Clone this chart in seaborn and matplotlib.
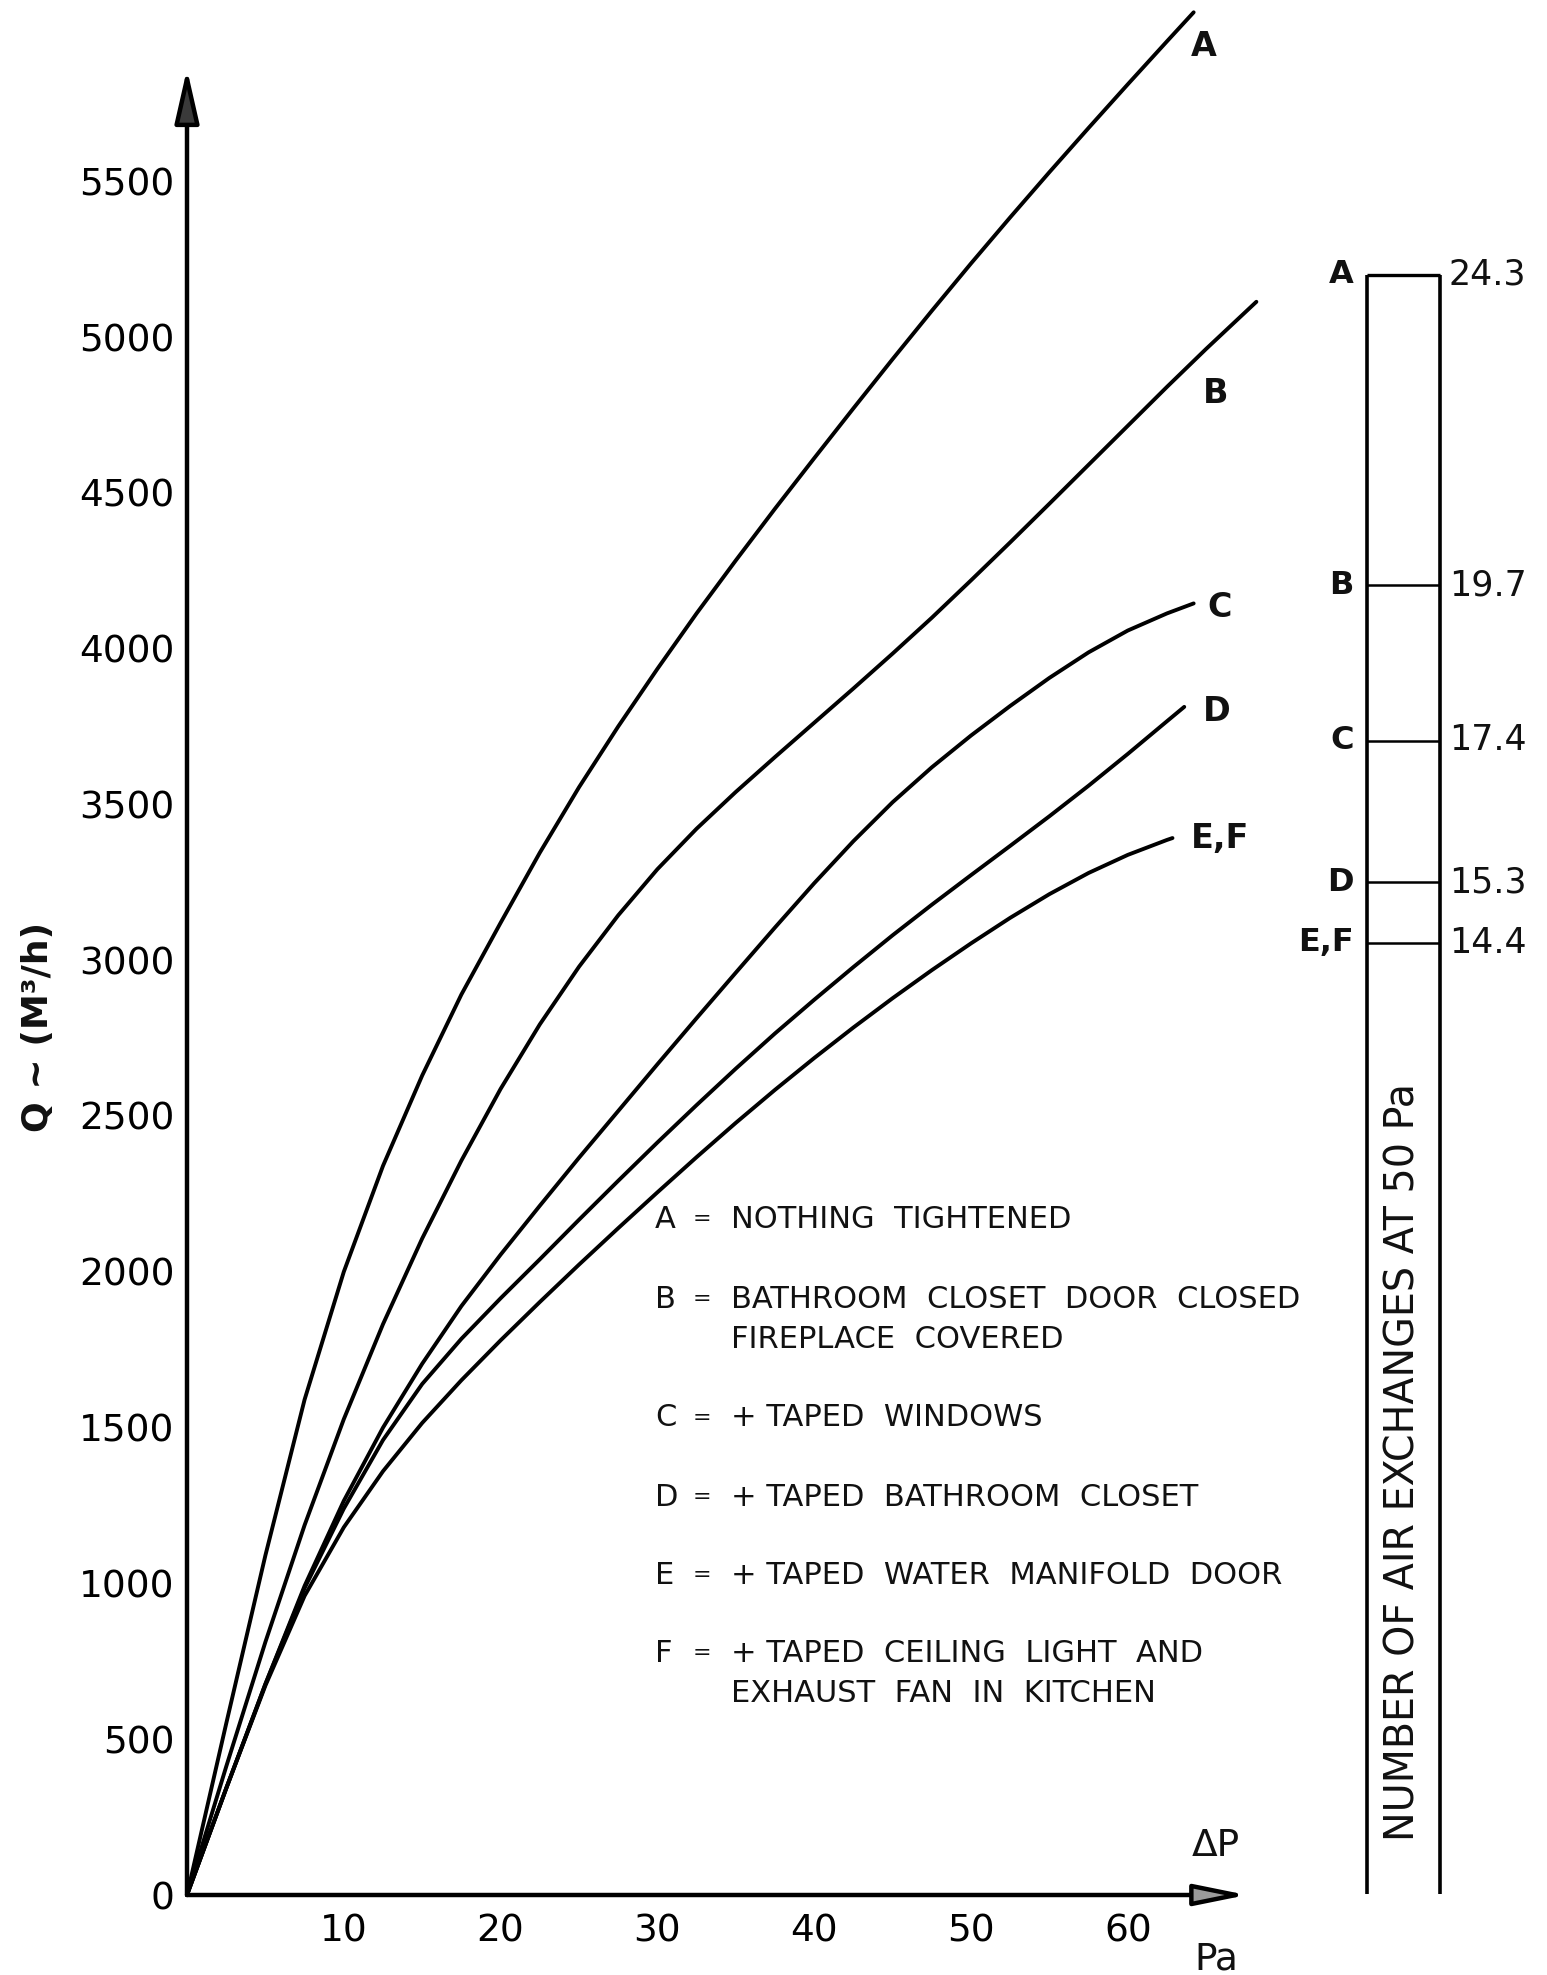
import numpy as np
import pandas as pd
import matplotlib
matplotlib.use("Agg")
import matplotlib.pyplot as plt
import seaborn as sns

# ---------------- data ----------------
curve_names = ["A", "B", "C", "D", "E,F"]

dp_A = [0, 2.5, 5, 7.5, 10, 12.5, 15, 17.5, 20, 22.5, 25, 27.5, 30, 32.5, 35,
        37.5, 40, 42.5, 45, 47.5, 50, 52.5, 55, 57.5, 60, 62.5, 64.2]
q_A = [0, 550, 1090, 1590, 2000, 2340, 2630, 2890, 3120, 3345, 3555, 3750, 3935, 4113, 4283,
       4449, 4611, 4771, 4929, 5084, 5236, 5384, 5529, 5671, 5811, 5949, 6042]

dp_B = [0, 2.5, 5, 7.5, 10, 12.5, 15, 17.5, 20, 22.5, 25, 27.5, 30, 32.5, 35,
        37.5, 40, 42.5, 45, 47.5, 50, 52.5, 55, 57.5, 60, 62.5, 65, 67.5, 68.2]
q_B = [0, 412, 812, 1187, 1527, 1832, 2107, 2357, 2587, 2794, 2979, 3144, 3292, 3422, 3540,
       3652, 3762, 3872, 3984, 4099, 4219, 4341, 4465, 4590, 4715, 4840, 4962, 5080, 5113]

dp_C = [0, 2.5, 5, 7.5, 10, 12.5, 15, 17.5, 20, 22.5, 25, 27.5, 30, 32.5, 35,
        37.5, 40, 42.5, 45, 47.5, 50, 52.5, 55, 57.5, 60, 62.5, 64.2]
q_C = [0, 342, 677, 992, 1265, 1500, 1705, 1890, 2055, 2212, 2366, 2516, 2666, 2814, 2960,
       3105, 3247, 3382, 3507, 3619, 3721, 3816, 3906, 3988, 4058, 4113, 4145]

dp_D = [0, 2.5, 5, 7.5, 10, 12.5, 15, 17.5, 20, 22.5, 25, 27.5, 30, 32.5, 35,
        37.5, 40, 42.5, 45, 47.5, 50, 52.5, 55, 57.5, 60, 62.5, 63.6]
q_D = [0, 342, 677, 985, 1240, 1460, 1640, 1785, 1915, 2040, 2167, 2292, 2415, 2535, 2652,
       2765, 2873, 2978, 3080, 3178, 3273, 3367, 3462, 3560, 3662, 3767, 3813]

dp_EF = [0, 2.5, 5, 7.5, 10, 12.5, 15, 17.5, 20, 22.5, 25, 27.5, 30, 32.5, 35,
         37.5, 40, 42.5, 45, 47.5, 50, 52.5, 55, 57.5, 60, 62.5, 62.85]
q_EF = [0, 342, 672, 960, 1180, 1360, 1515, 1652, 1780, 1903, 2023, 2140, 2255, 2368, 2478,
        2584, 2686, 2784, 2878, 2968, 3054, 3136, 3212, 3280, 3338, 3386, 3392]

x_ticks = [10, 20, 30, 40, 50, 60]
y_ticks = [0, 500, 1000, 1500, 2000, 2500, 3000, 3500, 4000, 4500, 5000, 5500]

bar_labels = ["A", "B", "C", "D", "E,F"]
bar_values = [24.3, 19.7, 17.4, 15.3, 14.4]

legend_keys = ["A", "B", "", "C", "D", "E", "F", ""]
legend_texts = ["NOTHING  TIGHTENED",
                "BATHROOM  CLOSET  DOOR  CLOSED",
                "FIREPLACE  COVERED",
                "+ TAPED  WINDOWS",
                "+ TAPED  BATHROOM  CLOSET",
                "+ TAPED  WATER  MANIFOLD  DOOR",
                "+ TAPED  CEILING  LIGHT  AND",
                "EXHAUST  FAN  IN  KITCHEN"]

# ---------------- long table for seaborn ----------------
frames = []
for name, xs, ys in zip(curve_names,
                        [dp_A, dp_B, dp_C, dp_D, dp_EF],
                        [q_A, q_B, q_C, q_D, q_EF]):
    frames.append(pd.DataFrame({"dp": xs, "q": ys, "curve": name}))
df = pd.concat(frames, ignore_index=True)

# ---------------- style ----------------
sns.set_style("white")
plt.rcParams["font.family"] = ["DejaVu Sans"]
plt.rcParams["text.color"] = "#111111"

W, H = 1547, 1975
fig = plt.figure(figsize=(W / 100, H / 100), dpi=100)
fig.patch.set_facecolor("white")

# pixel layout of the main axes
X0, XS = 187.0, 15.68      # px of x=0, px per Pa
Y0, YS = 1895.0, 0.3116    # px of y=0, px per m3/h
XMAX, YMAX = 70.0, 6050.0


def rect(x0, y_top, x1, y_bot):
    return [x0 / W, 1 - y_bot / H, (x1 - x0) / W, (y_bot - y_top) / H]


ax = fig.add_axes(rect(X0, Y0 - YMAX * YS, X0 + XMAX * XS, Y0))
ax.set_xlim(0, XMAX)
ax.set_ylim(0, YMAX)
ax.patch.set_alpha(0)

sns.lineplot(data=df, x="dp", y="q", hue="curve",
             palette={n: "black" for n in curve_names},
             estimator=None, sort=False, legend=False,
             linewidth=2.8, ax=ax)
for ln in ax.lines:
    ln.set_clip_on(False)
    ln.set_solid_capstyle("round")
    ln.set_solid_joinstyle("round")

for s in ax.spines.values():
    s.set_visible(False)
ax.set_xlabel("")
ax.set_ylabel("")
ax.set_xticks(x_ticks)
ax.set_xticklabels([str(v) for v in x_ticks])
ax.set_yticks(y_ticks)
ax.set_yticklabels([str(v) for v in y_ticks])
ax.tick_params(axis="x", direction="in", length=15, width=2.2, pad=13,
               labelsize=27, colors="black")
ax.tick_params(axis="y", direction="in", length=11, width=2.2, pad=9,
               labelsize=27, colors="black")

# axis lines with arrowheads
ax.annotate("", xy=(0, 5860), xytext=(0, 0), xycoords="data",
            arrowprops=dict(arrowstyle="-|>,head_length=3.3,head_width=0.75",
                            lw=3.2, ec="black", fc="#3a3a3a",
                            shrinkA=0, shrinkB=0, mutation_scale=10),
            annotation_clip=False)
ax.annotate("", xy=(67.6, 0), xytext=(0, 0), xycoords="data",
            arrowprops=dict(arrowstyle="-|>,head_length=3.2,head_width=0.65",
                            lw=3.2, ec="black", fc="#9a9a9a",
                            shrinkA=0, shrinkB=0, mutation_scale=10),
            annotation_clip=False)

# curve end labels
curve_label_pos = [(64.0, 5931), (64.8, 4820), (65.05, 4133), (64.8, 3797), (64.0, 3392)]
for name, (lx, ly) in zip(curve_names, curve_label_pos):
    ax.text(lx, ly, name, fontsize=24, fontweight="bold", ha="left",
            va="center", clip_on=False)


def ftext(x, y, s, **kw):
    fig.text(x / W, 1 - y / H, s, **kw)


# axis titles
ftext(38, 1027, "Q ~ (M³/h)", rotation=90, ha="center", va="center",
      fontsize=26, fontweight="bold")
ftext(1216, 1846, "ΔP", ha="center", va="center", fontsize=27)
ftext(1216, 1959, "Pa", ha="center", va="center", fontsize=27)

# legend block
leg_y = [1219, 1299, 1339, 1418, 1497, 1575, 1653, 1693]
for key, txt, y in zip(legend_keys, legend_texts, leg_y):
    if key:
        ftext(655, y, key, ha="left", va="center", fontsize=22)
        ftext(693, y, "=", ha="left", va="center", fontsize=16)
    ftext(731, y, txt, ha="left", va="center", fontsize=22)

# ---------------- air exchange bar ----------------
BZ, BS = 1915.0, 67.5   # px of 0 exchanges, px per exchange
ax2 = fig.add_axes(rect(1367, BZ - 25 * BS, 1440, BZ))
ax2.set_xlim(0, 1)
ax2.set_ylim(0, 25)
ax2.axis("off")
ax2.patch.set_alpha(0)
ax2.vlines([0, 1], (BZ - 1894) / BS, max(bar_values), color="black", lw=2.6,
           clip_on=False)
ax2.hlines(bar_values, 0, 1, color="black",
           lw=[2.4] + [1.8] * (len(bar_values) - 1), clip_on=False)
for lbl, v in zip(bar_labels, bar_values):
    ax2.text(-0.18, v, lbl, ha="right", va="center", fontsize=23,
             fontweight="bold", clip_on=False)
    ax2.text(1.12, v, f"{v:.1f}", ha="left", va="center", fontsize=25,
             clip_on=False)
ax2.text(0.5, (BZ - 1462) / BS, "NUMBER OF AIR EXCHANGES AT 50 Pa",
         rotation=90, ha="center", va="center", fontsize=28.5, clip_on=False)

fig.savefig("out.png", dpi=100, facecolor="white")
